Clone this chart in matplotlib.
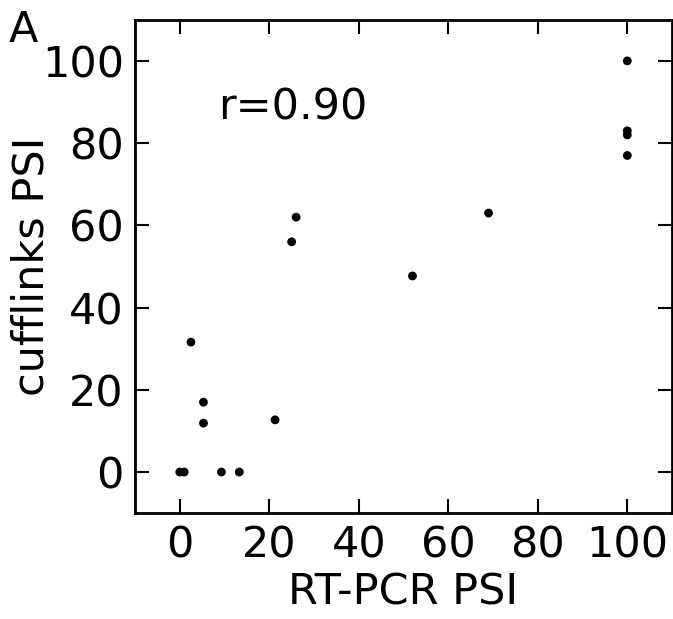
import numpy as np
import matplotlib
matplotlib.use("Agg")
import matplotlib.pyplot as plt

# RT-PCR PSI vs cufflinks PSI
rtpcr = [100, 100, 100, 100, 69, 26, 25, 52, 2.5, 5.3, 5.3, 21.3, 0, 1, 9.3, 13.3]
cuff = [100, 83, 82, 77, 63, 62, 56, 47.7, 31.6, 17, 11.9, 12.7, 0, 0, 0, 0]
xticks = [0, 20, 40, 60, 80, 100]
yticks = [0, 20, 40, 60, 80, 100]

plt.rcParams['font.size'] = 31

fig = plt.figure(figsize=(6.73, 6.19), dpi=100)
ax = fig.add_axes([0.2006, 0.171, 0.798, 0.797])

ax.scatter(rtpcr, cuff, s=40, color='black', edgecolor='none')

ax.set_xlim(-10, 110)
ax.set_ylim(-10, 110)
ax.set_xticks(xticks)
ax.set_yticks(yticks)
ax.tick_params(direction='in', length=10, width=1.5, top=True, right=True, pad=8)
for s in ax.spines.values():
    s.set_linewidth(2)

ax.set_xlabel('RT-PCR PSI', labelpad=4)
ax.set_ylabel('cufflinks PSI', labelpad=-8)
ax.text(8.6, 88.6, 'r=0.90', va='center', ha='left')
fig.text(0.013, 0.985, 'A', va='top', ha='left')

fig.savefig('out.png', dpi=100)
